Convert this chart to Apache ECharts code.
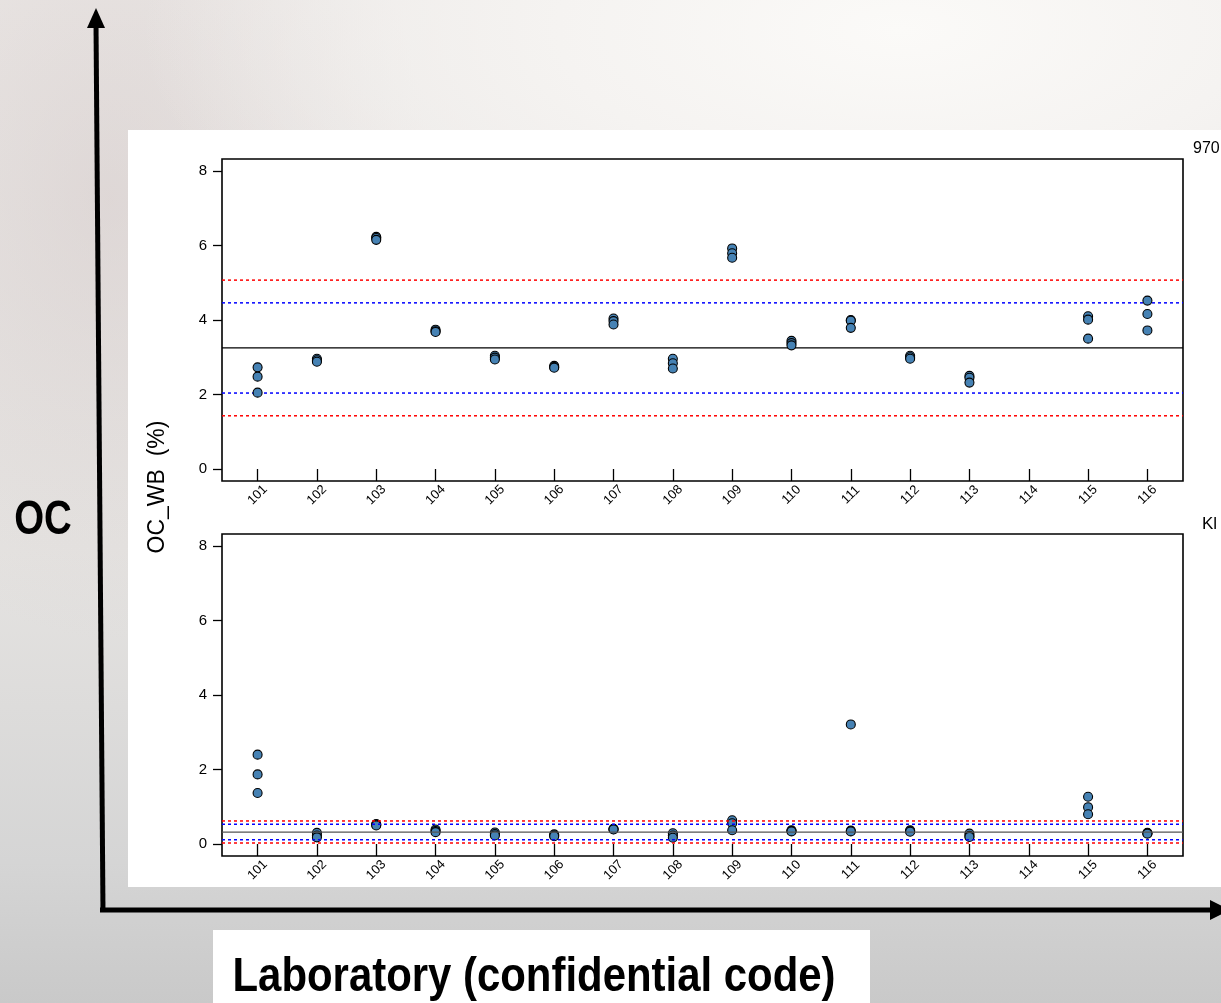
<!DOCTYPE html>
<html><head><meta charset="utf-8">
<script src="https://cdn.jsdelivr.net/npm/echarts@6/dist/echarts.min.js"></script>
<style>
html,body{margin:0;padding:0;width:1221px;height:1003px;overflow:hidden;}
body{
 background-color:#dedcda;
 background-image:
  radial-gradient(ellipse 760px 330px at 900px 30px, #fbfaf8 0%, #f5f3f1 45%, rgba(240,238,236,0) 100%),
  radial-gradient(ellipse 320px 440px at 110px 200px, rgba(205,192,192,0.40), rgba(205,192,192,0) 100%),
  linear-gradient(to bottom, #ece9e7 0%, #e5e3e1 55%, #d5d5d5 86%, #c9c9c9 100%);
}
#chart{width:1221px;height:1003px;}
</style></head><body><div id="chart"></div><script>
// ---- data ----
const labs = ['101','102','103','104','105','106','107','108','109','110','111','112','113','114','115','116'];
const yTicks = [0, 2, 4, 6, 8];
const topValues = [
  [2.73, 2.48, 2.05], [2.96, 2.92, 2.88], [6.23, 6.20, 6.15], [3.74, 3.70, 3.68],
  [3.04, 2.99, 2.94], [2.77, 2.74, 2.72], [4.04, 3.97, 3.88], [2.96, 2.84, 2.70],
  [5.92, 5.79, 5.67], [3.44, 3.38, 3.32], [4.00, 3.98, 3.79], [3.04, 3.00, 2.96],
  [2.50, 2.45, 2.32], [], [4.10, 4.01, 3.50], [4.52, 4.16, 3.72]
];
const bottomValues = [
  [2.40, 1.87, 1.37], [0.30, 0.23, 0.18], [0.54, 0.52, 0.50], [0.39, 0.35, 0.32],
  [0.31, 0.27, 0.23], [0.26, 0.23, 0.21], [0.41, 0.40, 0.39], [0.29, 0.23, 0.17],
  [0.64, 0.56, 0.37], [0.37, 0.35, 0.34], [3.21, 0.36, 0.34], [0.37, 0.35, 0.33],
  [0.28, 0.22, 0.19], [], [1.27, 0.99, 0.80], [0.30, 0.29, 0.28]
];
const topCenter = 3.25, topBlue = [2.04, 4.46], topRed = [1.43, 5.07];
const bottomCenter = 0.32, bottomBlue = [0.115, 0.535], bottomRed = [0.03, 0.62];
const topTag = '970', bottomTag = 'Kl';
const yTitle = 'OC_WB  (%)';
const bigYTitle = 'OC';
const bigXTitle = 'Laboratory (confidential code)';

// ---- build ----
const xTicks = labs.map(Number);
const xPad = (xTicks[xTicks.length-1] - xTicks[0]) * 0.04;
const xMin = xTicks[0] - xPad, xMax = xTicks[xTicks.length-1] + xPad;
const yPad = (yTicks[yTicks.length-1] - yTicks[0]) * 0.04;
const yMin = yTicks[0] - yPad, yMax = yTicks[yTicks.length-1] + yPad;
const FONT = '"Liberation Sans", Arial, Helvetica, sans-serif';

function pointsOf(values){
  const pts = [];
  labs.forEach((lab, i) => values[i].forEach(v => pts.push([Number(lab), v])));
  return pts;
}
function xAxisFor(gi){
  return {type:'value', gridIndex:gi, position:'bottom', min:xMin, max:xMax,
    axisLine:{show:false, onZero:false}, splitLine:{show:false},
    axisTick:{show:true, inside:true, length:12, customValues:xTicks, lineStyle:{color:'#000', width:1.3}},
    axisLabel:{customValues:xTicks, rotate:45, align:'center', verticalAlign:'middle', margin:14,
      fontSize:13, fontFamily:FONT, color:'#000', formatter:v=>String(v)}};
}
function yAxisFor(gi){
  return {type:'value', gridIndex:gi, position:'left', min:yMin, max:yMax,
    axisLine:{show:false, onZero:false}, splitLine:{show:false},
    axisTick:{show:true, length:9, customValues:yTicks, lineStyle:{color:'#000', width:1.3}},
    axisLabel:{customValues:yTicks, margin:15, fontSize:15, fontFamily:FONT, color:'#000'}};
}
function refLine(gi, v, color, dashed, width, z){
  return {type:'line', xAxisIndex:gi, yAxisIndex:gi, data:[[xMin, v],[xMax, v]],
    symbol:'none', showSymbol:false, silent:true, z:z,
    lineStyle:{color:color, width:width, type: dashed ? [3,3] : 'solid'}};
}
function scatterFor(gi, values, z){
  return {type:'scatter', xAxisIndex:gi, yAxisIndex:gi, data:pointsOf(values), symbolSize:9, z:z, silent:true,
    itemStyle:{color:'#4682b4', borderColor:'#000', borderWidth:1.1, opacity:1}};
}

const series = [
  refLine(0, topCenter, '#000', false, 1.2, 2),
  refLine(0, topBlue[0], '#0000ff', true, 1.5, 2), refLine(0, topBlue[1], '#0000ff', true, 1.5, 2),
  refLine(0, topRed[0], '#ff0000', true, 1.5, 2), refLine(0, topRed[1], '#ff0000', true, 1.5, 2),
  scatterFor(0, topValues, 3),
  scatterFor(1, bottomValues, 2),
  refLine(1, bottomCenter, '#555', false, 1.2, 3),
  refLine(1, bottomBlue[0], '#0000ff', true, 1.5, 3), refLine(1, bottomBlue[1], '#0000ff', true, 1.5, 3),
  refLine(1, bottomRed[0], '#ff0000', true, 1.5, 3), refLine(1, bottomRed[1], '#ff0000', true, 1.5, 3)
];

const chart = echarts.init(document.getElementById('chart'), null, {renderer:'canvas'});
chart.setOption({
  animation:false,
  backgroundColor:'transparent',
  grid:[
    {left:222, top:159, width:961, height:322, show:true, borderColor:'#000', borderWidth:1.6, backgroundColor:'transparent', z:1},
    {left:222, top:534, width:961, height:322, show:true, borderColor:'#000', borderWidth:1.6, backgroundColor:'transparent', z:1}
  ],
  xAxis:[xAxisFor(0), xAxisFor(1)],
  yAxis:[yAxisFor(0), yAxisFor(1)],
  series:series,
  graphic:[
    {type:'rect', z:-10, silent:true, shape:{x:128, y:130, width:1093, height:757}, style:{fill:'#fff'}},
    {type:'rect', z:-10, silent:true, shape:{x:213, y:930, width:657, height:80}, style:{fill:'#fff'}},
    {type:'line', silent:true, shape:{x1:103, y1:912, x2:96, y2:24}, style:{stroke:'#000', lineWidth:5}},
    {type:'polygon', silent:true, shape:{points:[[96,8],[87,28],[105,28]]}, style:{fill:'#000'}},
    {type:'line', silent:true, shape:{x1:100, y1:910, x2:1212, y2:910}, style:{stroke:'#000', lineWidth:5}},
    {type:'polygon', silent:true, shape:{points:[[1210,900],[1210,920],[1230,910]]}, style:{fill:'#000'}},
    {type:'text', silent:true, x:43, y:521, scaleX:0.8,
      style:{text:bigYTitle, font:'bold 48px '+FONT, fill:'#000', align:'center', verticalAlign:'middle'}},
    {type:'text', silent:true, x:534, y:978, scaleX:0.873,
      style:{text:bigXTitle, font:'bold 48px '+FONT, fill:'#000', align:'center', verticalAlign:'middle'}},
    {type:'text', silent:true, x:158, y:487, rotation:Math.PI/2,
      style:{text:yTitle, font:'23px '+FONT, fill:'#000', align:'center', verticalAlign:'middle'}},
    {type:'text', silent:true, x:1193, y:149,
      style:{text:topTag, font:'16px '+FONT, fill:'#000', align:'left', verticalAlign:'middle'}},
    {type:'text', silent:true, x:1202, y:524,
      style:{text:bottomTag, font:'17px '+FONT, fill:'#000', align:'left', verticalAlign:'middle'}}
  ]
});
</script></body></html>
